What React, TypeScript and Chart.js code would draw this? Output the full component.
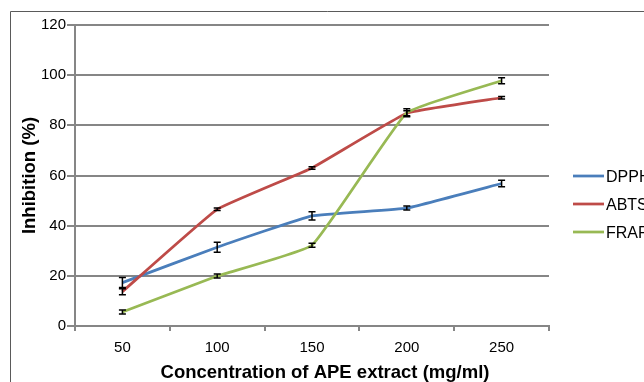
import React, { useEffect, useRef } from "react";
import { Chart, registerables } from "chart.js";

Chart.register(...registerables);

const categories = ["50", "100", "150", "200", "250"];
const seriesNames = ["DPPH", "ABTS", "FRAP"];
const dpph = [17.3, 31.4, 43.9, 47.0, 56.8];
const abts = [13.7, 46.5, 63.0, 84.8, 91.0];
const frap = [5.6, 19.9, 32.2, 85.0, 97.8];
const dpphErr = [2.0, 2.0, 1.6, 0.8, 1.3];
const abtsErr = [1.2, 0.5, 0.5, 1.0, 0.5];
const frapErr = [0.8, 0.8, 0.8, 1.6, 1.2];
const seriesColors = ["#4A7EBB", "#BE4B48", "#98B954"];
const yTicks = [0, 20, 40, 60, 80, 100, 120];
const xTitle = "Concentration of APE extract (mg/ml)";
const yTitle = "Inhibition (%)";

const FONT = "'Liberation Sans', Arial, Helvetica, sans-serif";
const GRID = "#868686";

const decorPlugin = {
  id: "decor",
  beforeDraw(chart: any) {
    const ctx = chart.ctx;
    ctx.save();
    ctx.fillStyle = "#ffffff";
    ctx.fillRect(0, 0, chart.width, chart.height);
    ctx.strokeStyle = "#5a5a5a";
    ctx.lineWidth = 1;
    ctx.beginPath();
    ctx.moveTo(10.5, chart.height);
    ctx.lineTo(10.5, 11.5);
    ctx.lineTo(chart.width, 11.5);
    ctx.stroke();
    ctx.restore();
  },
  afterDatasetsDraw(chart: any) {
    const ctx = chart.ctx;
    const xs = chart.scales.x;
    const ys = chart.scales.y;
    const errs = [dpphErr, abtsErr, frapErr];
    ctx.save();
    ctx.strokeStyle = "#000000";
    ctx.lineWidth = 1.5;
    chart.data.datasets.forEach((ds: any, di: number) => {
      ds.data.forEach((v: number, i: number) => {
        const e = errs[di][i];
        const x = xs.getPixelForValue(i);
        const y1 = ys.getPixelForValue(v - e);
        const y2 = ys.getPixelForValue(v + e);
        ctx.beginPath();
        ctx.moveTo(x, y1);
        ctx.lineTo(x, y2);
        ctx.moveTo(x - 3.5, y1);
        ctx.lineTo(x + 3.5, y1);
        ctx.moveTo(x - 3.5, y2);
        ctx.lineTo(x + 3.5, y2);
        ctx.stroke();
      });
    });
    ctx.restore();
  },
  afterDraw(chart: any) {
    const ctx = chart.ctx;
    const area = chart.chartArea;
    ctx.save();
    ctx.fillStyle = "#000000";
    // x title
    ctx.font = `bold 18.5px ${FONT}`;
    ctx.textAlign = "center";
    ctx.textBaseline = "alphabetic";
    ctx.fillText(xTitle, (area.left + area.right) / 2 + 13, 378);
    // y title
    ctx.save();
    ctx.translate(35, (area.top + area.bottom) / 2);
    ctx.rotate(-Math.PI / 2);
    ctx.fillText(yTitle, 0, 0);
    ctx.restore();
    // legend
    ctx.font = `16px ${FONT}`;
    ctx.textAlign = "left";
    const ly = [176, 204, 232];
    seriesNames.forEach((name, i) => {
      ctx.strokeStyle = seriesColors[i];
      ctx.lineWidth = 2.75;
      ctx.beginPath();
      ctx.moveTo(573, ly[i]);
      ctx.lineTo(604, ly[i]);
      ctx.stroke();
      ctx.fillText(name, 606, ly[i] + 5.8);
    });
    ctx.restore();
  },
};

export default function App() {
  const ref = useRef<HTMLCanvasElement | null>(null);
  useEffect(() => {
    if (!ref.current) return;
    const values = [dpph, abts, frap];
    const chart = new Chart(ref.current, {
      type: "line",
      data: {
        labels: categories,
        datasets: seriesNames.map((name, i) => ({
          label: name,
          data: values[i],
          borderColor: seriesColors[i],
          backgroundColor: seriesColors[i],
          borderWidth: 2.75,
          pointRadius: 0,
          pointHoverRadius: 0,
          tension: 0.1,
          fill: false,
          order: 3 - i,
        })),
      },
      options: {
        responsive: false,
        animation: false,
        events: [],
        layout: { padding: { top: 25, right: 95, left: 0, bottom: 0 } },
        plugins: {
          legend: { display: false },
          tooltip: { enabled: false },
          title: { display: false },
        },
        scales: {
          x: {
            offset: true,
            grid: {
              offset: true,
              drawOnChartArea: false,
              drawTicks: true,
              tickLength: 5,
              color: GRID,
              lineWidth: 2,
            },
            border: { display: true, color: GRID, width: 2 },
            ticks: {
              color: "#000000",
              font: { family: FONT, size: 15 },
              padding: 8,
              maxRotation: 0,
            },
            afterFit: (s: any) => {
              s.height = 56;
            },
          },
          y: {
            min: 0,
            max: 120,
            afterBuildTicks: (s: any) => {
              s.ticks = yTicks.map((v) => ({ value: v }));
            },
            grid: {
              color: GRID,
              lineWidth: 2,
              drawTicks: true,
              tickLength: 8,
            },
            border: { display: true, color: GRID, width: 2 },
            ticks: {
              color: "#000000",
              font: { family: FONT, size: 15 },
              padding: 1,
            },
            afterFit: (s: any) => {
              s.width = 75;
            },
          },
        },
      },
      plugins: [decorPlugin],
    });
    return () => chart.destroy();
  }, []);
  return (
    <div style={{ position: "fixed", left: 0, top: 0, width: 644, height: 382, overflow: "hidden" }}>
      <canvas ref={ref} width={644} height={382} style={{ width: 644, height: 382, display: "block" }} />
    </div>
  );
}
